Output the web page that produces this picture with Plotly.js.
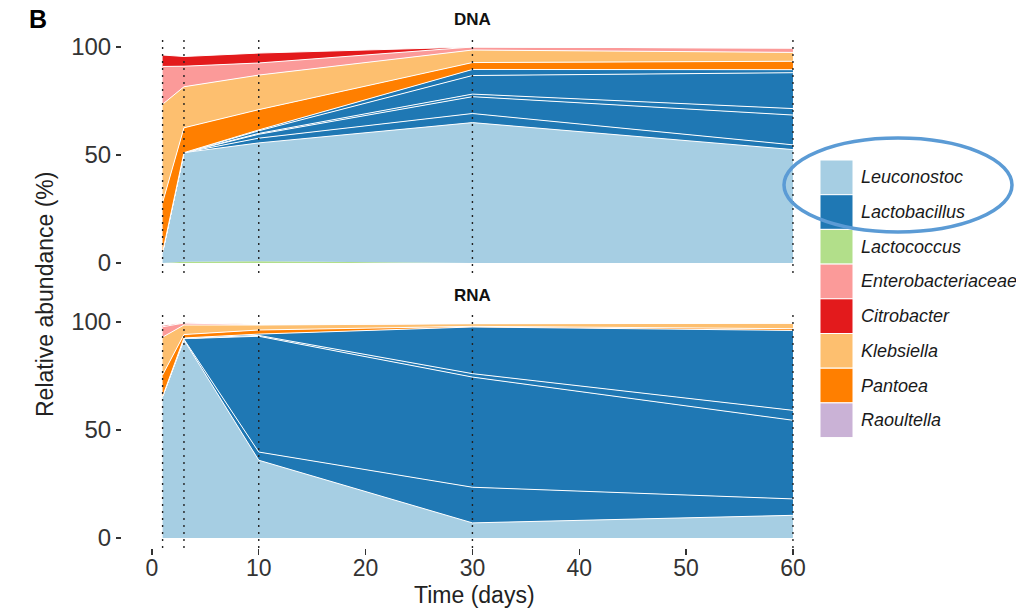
<!DOCTYPE html>
<html>
<head>
<meta charset="utf-8">
<script src="https://cdn.plot.ly/plotly-3.0.1.min.js"></script>
<style>html,body{margin:0;padding:0;background:#fff;}#chart{width:1016px;height:610px;}</style>
</head>
<body>
<div id="chart"></div>
<script>
// ---------------- DATA ----------------
const days = [1, 3, 10, 30, 60];
const xTicks = [0, 10, 20, 30, 40, 50, 60];
const yTicks = [0, 50, 100];

// DNA panel (relative abundance, %), stacked bottom -> top
const dnaLactococcus   = [0, 0.6, 0.8, 0, 0];
const dnaLeuconostoc   = [5, 50.5, 54.8, 65, 52.5];
const dnaLactobacillus1 = [0, 0, 2.2, 4.2, 2.2];
const dnaLactobacillus2 = [0, 0, 1.8, 7.8, 13.8];
const dnaLactobacillus3 = [0, 0, 0.4, 1.2, 3.0];
const dnaLactobacillus4 = [0, 0, 1.2, 8.6, 16.6];
const dnaLactobacillus5 = [0, 0, 0.4, 2.8, 1.4];
const dnaPantoea       = [23, 11.5, 9.4, 3.2, 3.9];
const dnaKlebsiella    = [45.5, 19, 16, 5.8, 4.1];
const dnaEnterobacteriaceae = [17.5, 9.5, 5.6, 1.4, 2.0];
const dnaCitrobacter   = [5.3, 4.5, 4.6, 0, 0];
const dnaRaoultella    = [0, 0, 0, 0, 0];

// RNA panel
const rnaLactococcus   = [0, 0, 0, 0, 0];
const rnaLeuconostoc   = [65.5, 91.7, 36, 7, 10.5];
const rnaLactobacillus1 = [0, 0.3, 3.8, 16.5, 7.6];
const rnaLactobacillus2 = [0, 0.3, 53.6, 51, 36.4];
const rnaLactobacillus3 = [0, 0.1, 0.4, 1.6, 4.6];
const rnaLactobacillus4 = [0, 0.2, 0.6, 21.6, 37.0];
const rnaPantoea       = [10, 1.6, 1.9, 0.3, 0.8];
const rnaKlebsiella    = [17.5, 4.4, 2.3, 1.2, 2.5];
const rnaEnterobacteriaceae = [4.8, 0.9, 0.2, 0.2, 0.2];
const rnaCitrobacter   = [0.6, 0.2, 0.1, 0, 0];
const rnaRaoultella    = [0, 0, 0, 0, 0];

const legendNames = ["Leuconostoc", "Lactobacillus", "Lactococcus", "Enterobacteriaceae",
                     "Citrobacter", "Klebsiella", "Pantoea", "Raoultella"];
const legendColors = ["#a6cee3", "#1f78b4", "#b2df8a", "#fb9a99",
                      "#e31a1c", "#fdbf6f", "#ff7f00", "#cab2d6"];
const colorOf = {};
legendNames.forEach((n, i) => colorOf[n] = legendColors[i]);

// ---------------- TRACES ----------------
const dnaStack = [
  ["Lactococcus", dnaLactococcus], ["Leuconostoc", dnaLeuconostoc],
  ["Lactobacillus", dnaLactobacillus1], ["Lactobacillus", dnaLactobacillus2],
  ["Lactobacillus", dnaLactobacillus3], ["Lactobacillus", dnaLactobacillus4],
  ["Lactobacillus", dnaLactobacillus5],
  ["Pantoea", dnaPantoea], ["Klebsiella", dnaKlebsiella],
  ["Enterobacteriaceae", dnaEnterobacteriaceae], ["Citrobacter", dnaCitrobacter],
  ["Raoultella", dnaRaoultella]
];
const rnaStack = [
  ["Lactococcus", rnaLactococcus], ["Leuconostoc", rnaLeuconostoc],
  ["Lactobacillus", rnaLactobacillus1], ["Lactobacillus", rnaLactobacillus2],
  ["Lactobacillus", rnaLactobacillus3], ["Lactobacillus", rnaLactobacillus4],
  ["Pantoea", rnaPantoea], ["Klebsiella", rnaKlebsiella],
  ["Enterobacteriaceae", rnaEnterobacteriaceae], ["Citrobacter", rnaCitrobacter],
  ["Raoultella", rnaRaoultella]
];

function makeTraces(stack, yaxis, group) {
  return stack.map(([name, vals]) => {
    const hidden = (name === "Lactococcus" || name === "Raoultella");
    return {
      type: "scatter", mode: "lines", x: days, y: vals, name: name,
      xaxis: "x", yaxis: yaxis, stackgroup: group,
      fillcolor: colorOf[name],
      line: {color: hidden ? "rgba(0,0,0,0)" : "#ffffff", width: hidden ? 0 : 1},
      showlegend: false, hoverinfo: "x+y+name"
    };
  });
}
const traces = makeTraces(dnaStack, "y", "dna").concat(makeTraces(rnaStack, "y2", "rna"));

// ---------------- LAYOUT ----------------
const L = 122, R = 825, T = 35, B = 548;
const px = x => (x - L) / (R - L);
const py = y => (B - y) / (B - T);
const font = "Liberation Sans, Arial, Helvetica, sans-serif";

const shapes = [];
days.forEach(d => {
  ["y domain", "y2 domain"].forEach(yr => shapes.push({
    type: "line", xref: "x", yref: yr, x0: d, x1: d, y0: 0, y1: 1,
    line: {color: "#222", width: 1.4, dash: "2px,5px"}, layer: "above"
  }));
});
const annotations = [
  {text: "<b>B</b>", x: px(38), y: py(19), xref: "paper", yref: "paper", showarrow: false,
   font: {family: font, size: 25, color: "#000"}, xanchor: "center", yanchor: "middle"},
  {text: "<b>DNA</b>", x: px(472), y: py(19), xref: "paper", yref: "paper", showarrow: false,
   font: {family: font, size: 17, color: "#111"}, xanchor: "center", yanchor: "middle"},
  {text: "<b>RNA</b>", x: px(472), y: py(295), xref: "paper", yref: "paper", showarrow: false,
   font: {family: font, size: 17, color: "#111"}, xanchor: "center", yanchor: "middle"},
  {text: "Relative abundance (%)", x: px(45), y: py(295), xref: "paper", yref: "paper", showarrow: false,
   textangle: -90, font: {family: font, size: 23, color: "#222"}, xanchor: "center", yanchor: "middle"},
  {text: "Time (days)", x: px(474), y: py(595), xref: "paper", yref: "paper", showarrow: false,
   font: {family: font, size: 23, color: "#222"}, xanchor: "center", yanchor: "middle"}
];
const keyTop = 160, keyH = 34.7;
legendNames.forEach((n, i) => {
  const y0 = keyTop + i * keyH;
  shapes.push({type: "rect", xref: "paper", yref: "paper", x0: px(820), x1: px(853),
               y0: py(y0), y1: py(y0 + keyH), fillcolor: legendColors[i],
               line: {color: "#ffffff", width: 1}, layer: "above"});
  annotations.push({text: "<i>" + n + "</i>", x: px(859), y: py(y0 + keyH / 2), xref: "paper", yref: "paper",
                    showarrow: false, xanchor: "left", yanchor: "middle",
                    font: {family: font, size: 18, color: "#1a1a1a"}});
});
// highlight ellipse drawn over the legend
shapes.push({type: "circle", xref: "paper", yref: "paper", x0: px(784), x1: px(1012),
             y0: py(138), y1: py(232), line: {color: "#5b9bd5", width: 3.5}, layer: "above"});

const yAxisCommon = {
  range: [-4.63, 105.56], tickvals: yTicks, ticktext: yTicks.map(String),
  ticks: "outside", ticklen: 5, tickwidth: 1.3, tickcolor: "#333",
  showgrid: false, zeroline: false, showline: false, fixedrange: true,
  tickfont: {family: font, size: 24, color: "#333"}
};
const layout = {
  width: 1016, height: 610,
  margin: {l: L, r: 1016 - R, t: T, b: 610 - B},
  paper_bgcolor: "#fff", plot_bgcolor: "#fff",
  showlegend: false,
  xaxis: {range: [-2.8, 63.0], anchor: "y2", tickvals: xTicks, ticktext: xTicks.map(String),
          ticks: "outside", ticklen: 6, tickwidth: 1.3, tickcolor: "#333",
          ticklabelstandoff: -7,
          showgrid: false, zeroline: false, showline: false,
          tickfont: {family: font, size: 23, color: "#333"}},
  yaxis: Object.assign({domain: [py(273), 1], anchor: "x"}, yAxisCommon),
  yaxis2: Object.assign({domain: [0, py(310)], anchor: "x"}, yAxisCommon),
  shapes: shapes, annotations: annotations
};
Plotly.newPlot("chart", traces, layout, {displayModeBar: false, staticPlot: true});
</script>
</body>
</html>
